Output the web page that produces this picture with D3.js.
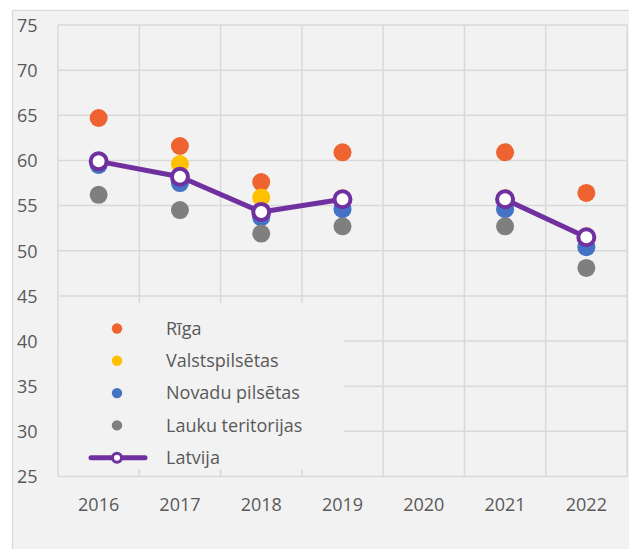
<!DOCTYPE html>
<html>
<head>
<meta charset="utf-8">
<script src="https://cdn.jsdelivr.net/npm/d3@7"></script>
<style>
  html, body { margin: 0; padding: 0; background: #ffffff; }
  svg { display: block; }
  text { font-family: "Open Sans", sans-serif; fill: #595959; }
</style>
</head>
<body>
<svg id="chart" width="629" height="549"></svg>
<script>
const years = ["2016", "2017", "2018", "2019", "2020", "2021", "2022"];
const yTicks = [25, 30, 35, 40, 45, 50, 55, 60, 65, 70, 75];
const riga = [64.7, 61.6, 57.6, 60.9, null, 60.9, 56.4];
const valstspilsetas = [59.9, 59.6, 55.9, 55.8, null, 55.8, 51.6];
const novadu = [59.5, 57.5, 53.7, 54.6, null, 54.6, 50.4];
const lauku = [56.2, 54.5, 51.9, 52.7, null, 52.7, 48.1];
const latvija = [59.9, 58.2, 54.3, 55.7, null, 55.7, 51.5];

const seriesNames = ["Rīga", "Valstspilsētas", "Novadu pilsētas", "Lauku teritorijas", "Latvija"];
const colors = ["#EF6331", "#FFC000", "#4472C4", "#7F7F7F", "#7030A0"];

const svg = d3.select("#chart");
const plot = { left: 58, right: 627, top: 25, bottom: 476.5 };

// outer frame
svg.append("rect").attr("x", 12.5).attr("y", 10.5).attr("width", 640).attr("height", 560)
  .attr("fill", "#f2f2f2").attr("stroke", "#d9d9d9").attr("stroke-width", 1.3);

const x = d3.scaleBand().domain(years).range([plot.left, plot.right]).padding(0);
const y = d3.scaleLinear().domain([25, 75]).range([plot.bottom, plot.top]);

const grid = svg.append("g");
grid.selectAll("line.h").data(yTicks).join("line")
  .attr("x1", plot.left).attr("x2", plot.right)
  .attr("y1", d => y(d)).attr("y2", d => y(d))
  .attr("stroke", "#d9d9d9").attr("stroke-width", 1.5);
const bounds = years.map(d => x(d)).concat([x(years[years.length - 1]) + x.bandwidth()]);
grid.selectAll("line.v").data(bounds).join("line")
  .attr("x1", d => d).attr("x2", d => d)
  .attr("y1", plot.top).attr("y2", plot.bottom)
  .attr("stroke", "#d9d9d9").attr("stroke-width", 1.5);

// axes labels
const yAxis = d3.axisLeft(y).tickValues(yTicks).tickSize(0).tickPadding(0);
const yG = svg.append("g").attr("transform", "translate(37.5,0)").call(yAxis);
yG.select(".domain").remove();
yG.selectAll("text").style("font-size", "18px").attr("fill", "#595959").attr("dy", "0.35em");

const xAxis = d3.axisBottom(x).tickSize(0).tickPadding(0);
const xG = svg.append("g").attr("transform", "translate(0,505)").call(xAxis);
xG.select(".domain").remove();
xG.selectAll("text").style("font-size", "18px").attr("fill", "#595959").attr("dy", "0.35em");

// legend background
svg.append("rect").attr("x", 59).attr("y", 303).attr("width", 285).attr("height", 166)
  .attr("fill", "#f2f2f2");

// scatter series
const scatter = [riga, valstspilsetas, novadu, lauku];
scatter.forEach((vals, i) => {
  svg.append("g").selectAll("circle")
    .data(vals.map((v, j) => ({ v, year: years[j] })).filter(d => d.v !== null))
    .join("circle")
    .attr("cx", d => x(d.year) + x.bandwidth() / 2)
    .attr("cy", d => y(d.v))
    .attr("r", 9)
    .attr("fill", colors[i]);
});

// Latvija line
const latData = latvija.map((v, j) => ({ v, year: years[j] }));
const line = d3.line()
  .defined(d => d.v !== null)
  .x(d => x(d.year) + x.bandwidth() / 2)
  .y(d => y(d.v));
svg.append("path").datum(latData).attr("d", line)
  .attr("fill", "none").attr("stroke", colors[4]).attr("stroke-width", 5)
  .attr("stroke-linejoin", "round");
svg.append("g").selectAll("circle")
  .data(latData.filter(d => d.v !== null))
  .join("circle")
  .attr("cx", d => x(d.year) + x.bandwidth() / 2)
  .attr("cy", d => y(d.v))
  .attr("r", 8)
  .attr("fill", "#ffffff").attr("stroke", colors[4]).attr("stroke-width", 4);

// legend
const lg = svg.append("g");
const legY0 = 328.5, legStep = 32.3, legMX = 117, legTX = 166;
seriesNames.forEach((name, i) => {
  const cy = legY0 + i * legStep;
  if (i < 4) {
    lg.append("circle").attr("cx", legMX).attr("cy", cy).attr("r", 5.2).attr("fill", colors[i]);
  } else {
    lg.append("line").attr("x1", 91).attr("x2", 145).attr("y1", cy).attr("y2", cy)
      .attr("stroke", colors[4]).attr("stroke-width", 5).attr("stroke-linecap", "round");
    lg.append("circle").attr("cx", legMX).attr("cy", cy).attr("r", 4.5)
      .attr("fill", "#ffffff").attr("stroke", colors[4]).attr("stroke-width", 3);
  }
  lg.append("text").attr("x", legTX).attr("y", cy).attr("dy", "0.35em")
    .style("font-size", "18px").attr("fill", "#404040").text(name);
});
</script>
</body>
</html>
